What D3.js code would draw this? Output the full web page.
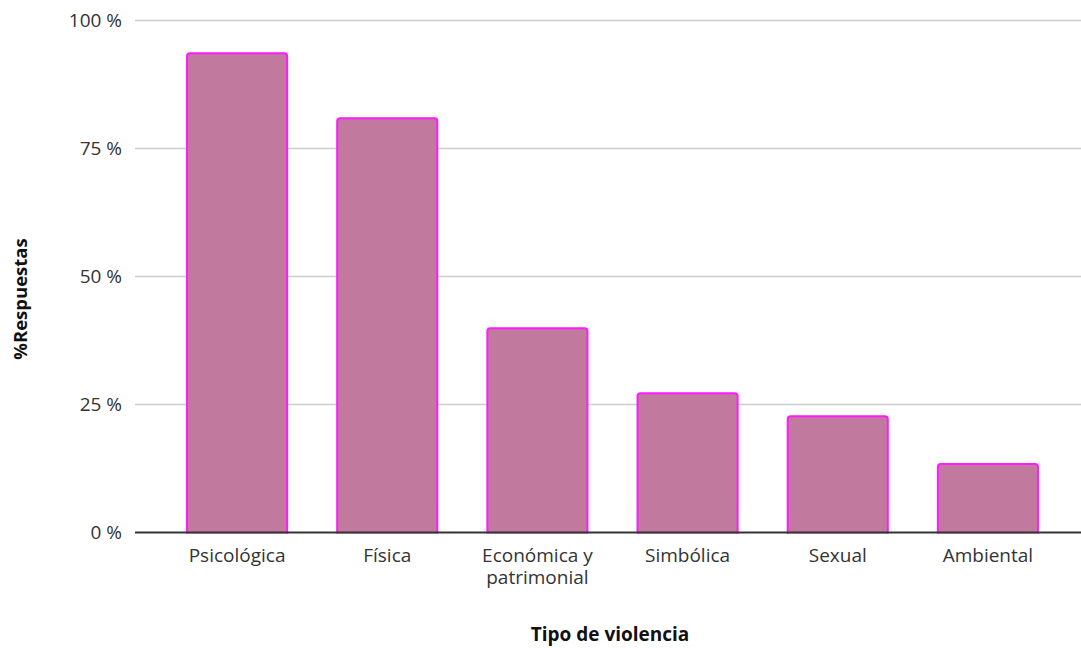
<!DOCTYPE html>
<html>
<head>
<meta charset="utf-8">
<script src="https://cdn.jsdelivr.net/npm/d3@7"></script>
<style>
  body { margin: 0; background: #fff; }
  svg { display: block; font-family: "Open Sans", sans-serif; }
</style>
</head>
<body>
<svg id="chart" width="1081" height="648"></svg>
<script>
// Tipos de violencia y porcentaje de respuestas
const categories = ["Psicológica", "Física", "Económica y patrimonial", "Simbólica", "Sexual", "Ambiental"];
const labelLines = [["Psicológica"], ["Física"], ["Económica y", "patrimonial"], ["Simbólica"], ["Sexual"], ["Ambiental"]];
const values = [93.6, 80.9, 39.9, 27.2, 22.7, 13.4];
const yTicks = [0, 25, 50, 75, 100];

const svg = d3.select("#chart");

const plotLeft = 135, plotRight = 1081;
const plotTop = 20.5, plotBottom = 532.5;

const x = d3.scaleBand()
  .domain(categories)
  .range([162, 1063])
  .paddingInner(1 / 3)
  .paddingOuter(1 / 6);

const y = d3.scaleLinear().domain([0, 100]).range([plotBottom, plotTop]);

// clip so bars have rounded tops and square bottoms at the baseline
svg.append("defs").append("clipPath").attr("id", "plotClip")
  .append("rect").attr("x", 0).attr("y", 0).attr("width", 1081).attr("height", plotBottom + 1);

// grid lines
svg.append("g")
  .selectAll("line")
  .data(yTicks.filter(d => d > 0))
  .join("line")
  .attr("x1", plotLeft).attr("x2", plotRight)
  .attr("y1", d => y(d)).attr("y2", d => y(d))
  .attr("stroke", "#cccccc").attr("stroke-width", 1.3);

// y tick labels
const yAxis = d3.axisLeft(y).tickValues(yTicks).tickSize(0).tickPadding(0)
  .tickFormat(d => d + " %");
const yg = svg.append("g").attr("transform", `translate(122,0)`).call(yAxis);
yg.select(".domain").remove();
yg.selectAll("text").attr("font-size", 19).attr("fill", "#333").attr("font-family", "'Open Sans', sans-serif");

// bars
svg.append("g")
  .attr("clip-path", "url(#plotClip)")
  .selectAll("rect")
  .data(values)
  .join("rect")
  .attr("x", (d, i) => x(categories[i]))
  .attr("width", x.bandwidth())
  .attr("y", d => y(d))
  .attr("height", d => y(0) - y(d) + 6)
  .attr("rx", 3).attr("ry", 3)
  .attr("fill", "#c17a9e")
  .attr("stroke", "#ff1aff")
  .attr("stroke-width", 2);

// baseline
svg.append("line")
  .attr("x1", plotLeft).attr("x2", plotRight)
  .attr("y1", plotBottom).attr("y2", plotBottom)
  .attr("stroke", "#333").attr("stroke-width", 2);

// category labels
const xl = svg.append("g");
categories.forEach((c, i) => {
  const cx = x(c) + x.bandwidth() / 2;
  const t = xl.append("text")
    .attr("x", cx)
    .attr("y", 562)
    .attr("text-anchor", "middle")
    .attr("font-size", 19)
    .attr("fill", "#333");
  labelLines[i].forEach((ln, k) => {
    t.append("tspan").attr("x", cx).attr("dy", k === 0 ? 0 : 22).text(ln);
  });
});

// axis titles
svg.append("text")
  .attr("x", 610).attr("y", 641)
  .attr("text-anchor", "middle")
  .attr("font-size", 19).attr("font-weight", "bold").attr("fill", "#111")
  .text("Tipo de violencia");

svg.append("text")
  .attr("transform", "translate(27,299) rotate(-90)")
  .attr("text-anchor", "middle")
  .attr("font-size", 18.5).attr("font-weight", "bold").attr("fill", "#111")
  .text("%Respuestas");
</script>
</body>
</html>
